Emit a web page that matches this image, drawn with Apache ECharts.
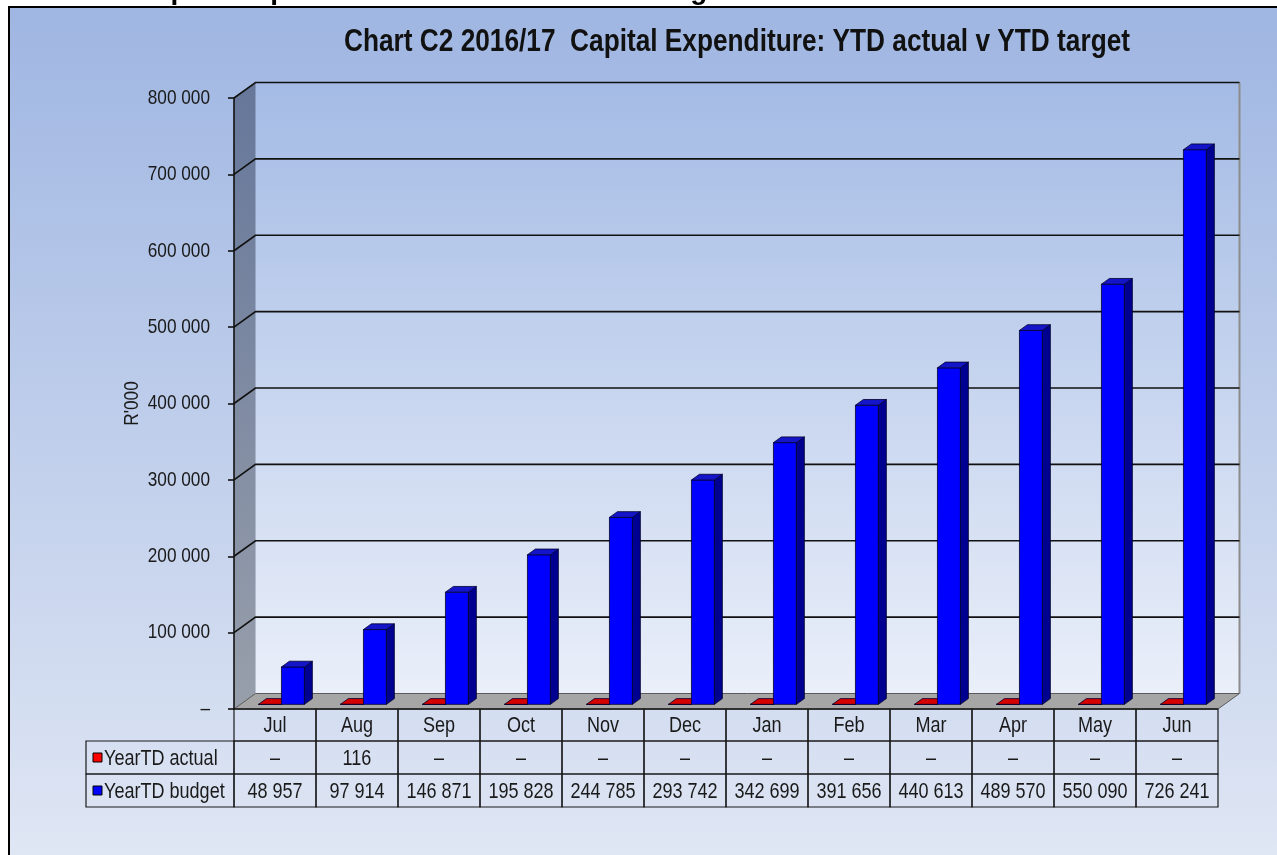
<!DOCTYPE html>
<html><head><meta charset="utf-8">
<script src="https://cdn.jsdelivr.net/npm/echarts@6/dist/echarts.min.js"></script>
<style>html,body{margin:0;padding:0;background:#fff}#c{width:1277px;height:855px}</style>
</head><body><div id="c"></div>
<script>
// ---- data ----
const months = ['Jul','Aug','Sep','Oct','Nov','Dec','Jan','Feb','Mar','Apr','May','Jun'];
const actual = [0,116,0,0,0,0,0,0,0,0,0,0];
const budget = [48957,97914,146871,195828,244785,293742,342699,391656,440613,489570,550090,726241];
const yTicks = [0,100000,200000,300000,400000,500000,600000,700000,800000];
const seriesNames = ['YearTD actual','YearTD budget'];
const chartTitle = 'Chart C2 2016/17  Capital Expenditure: YTD actual v YTD target';
const pageHeading = 'Chart C2: Capital Expenditure: YTD actual v YTD target';
const yName = "R'000";

// ---- helpers ----
const FONT = '"Liberation Sans",Arial,sans-serif';
const NARROW_SCALE = 0.82;   // emulate a narrow typeface
function fmt(n){ return n === 0 ? '\u2013' : String(n).replace(/\B(?=(\d{3})+(?!\d))/g, ' '); }
function ntext(txt, x, y, size, align, vAlign, extra){
  const el = {type:'text', x:x, y:y, scaleX:NARROW_SCALE, scaleY:1,
    style:{text:txt, x:0, y:0, align:align, verticalAlign:vAlign, font:(extra && extra.weight ? extra.weight + ' ' : '') + size + 'px ' + FONT, fill:'#1a1a1a'}};
  if (extra && extra.rotation) el.rotation = extra.rotation;
  if (extra && extra.fill) el.style.fill = extra.fill;
  if (extra && extra.z != null) el.z = extra.z;
  return el;
}
const DX = 21.5, DY = -15.5;       // depth offsets of the 3D box
const D0 = 0.3, D1 = 0.67;         // bar depth range
const BARW = 0.28;                 // bar width as share of band
const ROWH = [32, 33, 33];
const yMax = yTicks[yTicks.length - 1];

const chart = echarts.init(document.getElementById('c'));

function wallsRender(params, api){
  if (params.dataIndex !== 0) return null;
  const bw = api.size([1,0])[0];
  const p0 = api.coord([0, 0]), p1 = api.coord([months.length-1, yMax]);
  const xL = p0[0] - bw/2, xR = p1[0] + bw/2, yB = p0[1], yT = p1[1];
  const ch = [];
  ch.push({type:'polygon', shape:{points:[[xL+DX,yT+DY],[xR+DX,yT+DY],[xR+DX,yB+DY],[xL+DX,yB+DY]]},
    style:{fill:new echarts.graphic.LinearGradient(0,0,0,1,[{offset:0,color:'#a4bbe5'},{offset:1,color:'#eaeff9'}]), stroke:null}});
  ch.push({type:'polygon', shape:{points:[[xL,yT],[xL+DX,yT+DY],[xL+DX,yB+DY],[xL,yB]]},
    style:{fill:new echarts.graphic.LinearGradient(0,0,0,1,[{offset:0,color:'#66779a'},{offset:1,color:'#989fab'}]), stroke:null}});
  ch.push({type:'line', shape:{x1:xR+DX,y1:yT+DY,x2:xR+DX,y2:yB+DY}, style:{stroke:'#8c8c8c', lineWidth:2}});
  yTicks.forEach(function(t){
    const y = api.coord([0, t])[1];
    ch.push(ntext(fmt(t), xL - 24, y, 21, 'right', 'middle'));
    if (t === 0) return;
    ch.push({type:'polyline', shape:{points:[[xL,y],[xL+DX,y+DY],[xR+DX,y+DY]]}, style:{stroke:'#111', lineWidth:1.6, fill:null}});
  });
  const ym = (yB + yT) / 2;
  ch.push(ntext(yName, xL - 102, ym, 21, 'center', 'middle', {rotation:Math.PI/2}));
  ch.push({type:'polygon', shape:{points:[[xL,yB],[xL+DX,yB+DY],[xR+DX,yB+DY],[xR,yB]]},
    style:{fill:'#a6a6a6', stroke:'#5a5a5a', lineWidth:1}});
  ch.push({type:'line', shape:{x1:xL,y1:yB,x2:xR,y2:yB}, style:{stroke:'#333', lineWidth:1.5}});
  return {type:'group', children:ch};
}

function barRender(side, cFront, cSide, cTop){
  return function(params, api){
    const i = api.value(0), v = api.value(1);
    const top = api.coord([i, v]), base = api.coord([i, 0]);
    const bw = api.size([1,0])[0];
    const w = bw * BARW;
    const xl = side < 0 ? top[0] - w : top[0];
    const xr = xl + w;
    const ox0 = DX*D0, oy0 = DY*D0, ox1 = DX*D1, oy1 = DY*D1;
    const yb = base[1], yt = top[1];
    const st = '#000030';
    return {type:'group', children:[
      {type:'rect', shape:{x:xl+ox0, y:yt+oy0, width:w, height:yb-yt}, style:{fill:cFront, stroke:st, lineWidth:0.8}},
      {type:'polygon', shape:{points:[[xr+ox0,yt+oy0],[xr+ox1,yt+oy1],[xr+ox1,yb+oy1],[xr+ox0,yb+oy0]]}, style:{fill:cSide, stroke:st, lineWidth:0.8}},
      {type:'polygon', shape:{points:[[xl+ox0,yt+oy0],[xr+ox0,yt+oy0],[xr+ox1,yt+oy1],[xl+ox1,yt+oy1]]}, style:{fill:cTop, stroke:st, lineWidth:0.8}}
    ]};
  };
}

function tableRender(params, api){
  const i = api.value(0);
  const c = api.coord([i, 0]);
  const bw = api.size([1,0])[0];
  const x0 = c[0] - bw/2, y0 = c[1];
  const rows = [months[i], fmt(actual[i]), fmt(budget[i])];
  const ch = [];
  let y = y0;
  rows.forEach(function(txt, r){
    ch.push({type:'rect', shape:{x:x0, y:y, width:bw, height:ROWH[r]}, style:{fill:null, stroke:'#1a1a1a', lineWidth:1.2}});
    ch.push(ntext(txt, x0+bw/2, y+ROWH[r]/2+1, 22, 'center', 'middle'));
    y += ROWH[r];
  });
  if (params.dataIndex === 0) {
    const lx = 86, ly = y0 + ROWH[0];
    const cols = ['#ff0000', '#0000ff'];
    for (let r = 0; r < 2; r++) {
      const yy = ly + (r === 0 ? 0 : ROWH[1]);
      const h = ROWH[r+1];
      ch.push({type:'rect', shape:{x:lx, y:yy, width:x0-lx, height:h}, style:{fill:null, stroke:'#1a1a1a', lineWidth:1.2}});
      ch.push({type:'rect', shape:{x:lx+7, y:yy+h/2-4.5, width:9, height:9}, style:{fill:cols[r], stroke:'#000', lineWidth:1}});
      ch.push(ntext(seriesNames[r], lx+18, yy+h/2+1, 22, 'left', 'middle'));
    }
  }
  return {type:'group', children:ch};
}

const option = {
  animation:false,
  graphic:[
    {type:'text', z:0, style:{text:pageHeading, x:1, y:5, verticalAlign:'bottom', font:'bold 28px ' + FONT, fill:'#000'}},
    {type:'rect', z:1, shape:{x:9, y:7, width:1300, height:900},
      style:{fill:new echarts.graphic.LinearGradient(0,0,0,1,[{offset:0,color:'#9fb6e2'},{offset:1,color:'#e3e9f5'}]), stroke:'#000', lineWidth:2}},
    ntext(chartTitle, 737, 42, 32, 'center', 'middle', {weight:'bold', fill:'#111', z:5})
  ],
  grid:{left:234, top:98, width:984, height:611},
  xAxis:{type:'category', data:months, show:false},
  yAxis:{type:'value', min:0, max:yMax, interval:100000, z:10,
    axisLine:{show:true, lineStyle:{color:'#111', width:1.6}},
    axisTick:{show:true, length:6, lineStyle:{color:'#111', width:1.6}},
    splitLine:{show:false},
    axisLabel:{show:false}
  },
  series:[
    {type:'custom', name:'walls', z:2, clip:false, silent:true, renderItem:wallsRender, data:[[0,0]]},
    {type:'custom', name:seriesNames[0], z:3, clip:false, renderItem:barRender(-1,'#ff0000','#a00000','#d40000'),
      data:actual.map(function(v,i){return [i,v];})},
    {type:'custom', name:seriesNames[1], z:3, clip:false, renderItem:barRender(1,'#0000ff','#000090','#1414c8'),
      data:budget.map(function(v,i){return [i,v];})},
    {type:'custom', name:'table', z:4, clip:false, silent:true, renderItem:tableRender,
      data:budget.map(function(v,i){return [i,0];})}
  ]
};
chart.setOption(option);
</script>
</body></html>
